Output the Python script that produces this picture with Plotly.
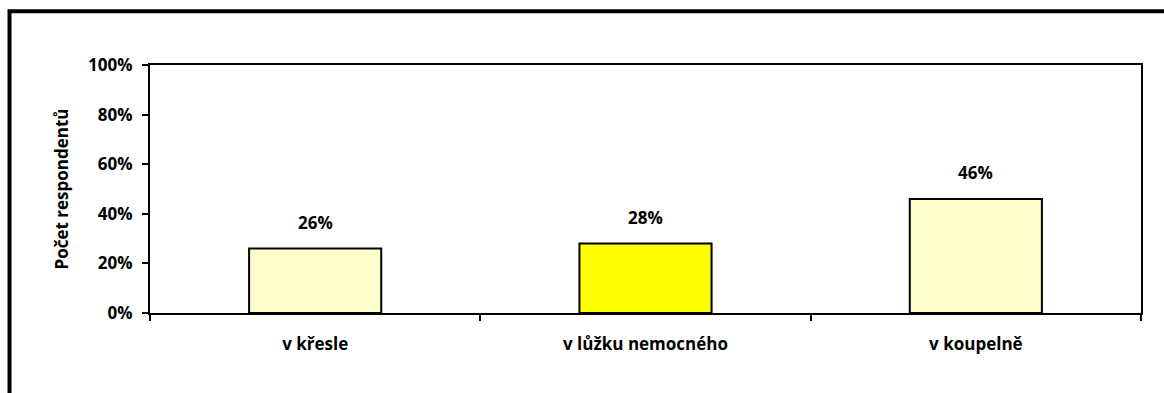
import plotly.graph_objects as go

categories = ["v křesle", "v lůžku nemocného", "v koupelně"]
values = [0.26, 0.28, 0.46]
bar_colors = ["#FFFFCC", "#FFFF00", "#FFFFCC"]
y_ticks = [0, 0.2, 0.4, 0.6, 0.8, 1.0]
y_title = "Počet respondentů"

W, H = 1164, 393
ML, MR, MT, MB = 150, 23, 65, 80
FONT = "Open Sans"
FS = 17

fig = go.Figure()
fig.add_trace(go.Bar(
    x=categories, y=values, width=0.4,
    marker=dict(color=bar_colors, line=dict(color="black", width=2)),
    hoverinfo="skip",
))

for c, v in zip(categories, values):
    fig.add_annotation(x=c, y=v, text=f"{round(v*100)}%", showarrow=False,
                       yanchor="bottom", yshift=13,
                       font=dict(family=FONT, size=FS, color="black", weight="bold"))

# outer frame (cut off at right and bottom in the reference)
pw, ph = W - ML - MR, H - MT - MB
def px_x(px): return (px - ML) / pw
def px_y(py): return (H - MB - py) / ph
fig.add_shape(type="rect", xref="paper", yref="paper",
              x0=px_x(9.5), x1=px_x(1200), y0=px_y(11.3), y1=px_y(420),
              line=dict(color="black", width=4), fillcolor="rgba(0,0,0,0)", layer="below")

fig.update_layout(
    width=W, height=H,
    margin=dict(l=ML, r=MR, t=MT, b=MB),
    paper_bgcolor="white", plot_bgcolor="white",
    showlegend=False,
    bargap=0.6,
    font=dict(family=FONT, size=FS, color="black", weight="bold"),
)
fig.update_xaxes(
    showline=True, linecolor="black", linewidth=2, mirror=True,
    ticks="outside", tickson="boundaries", ticklen=6, tickwidth=2, tickcolor="black",
    ticklabelstandoff=15,
    tickfont=dict(family=FONT, size=FS, color="black", weight="bold"),
    showgrid=False, fixedrange=True,
)
fig.update_yaxes(
    range=[0, 1], tickvals=y_ticks, tickformat=".0%",
    showline=True, linecolor="black", linewidth=2, mirror=True,
    ticks="outside", ticklen=6, tickwidth=2, tickcolor="black",
    ticklabelstandoff=6,
    tickfont=dict(family=FONT, size=FS, color="black", weight="bold"),
    showgrid=False, zeroline=False, fixedrange=True,
    title=dict(text=y_title, standoff=15,
               font=dict(family=FONT, size=FS, color="black", weight="bold")),
)

fig.write_html("out.html")
